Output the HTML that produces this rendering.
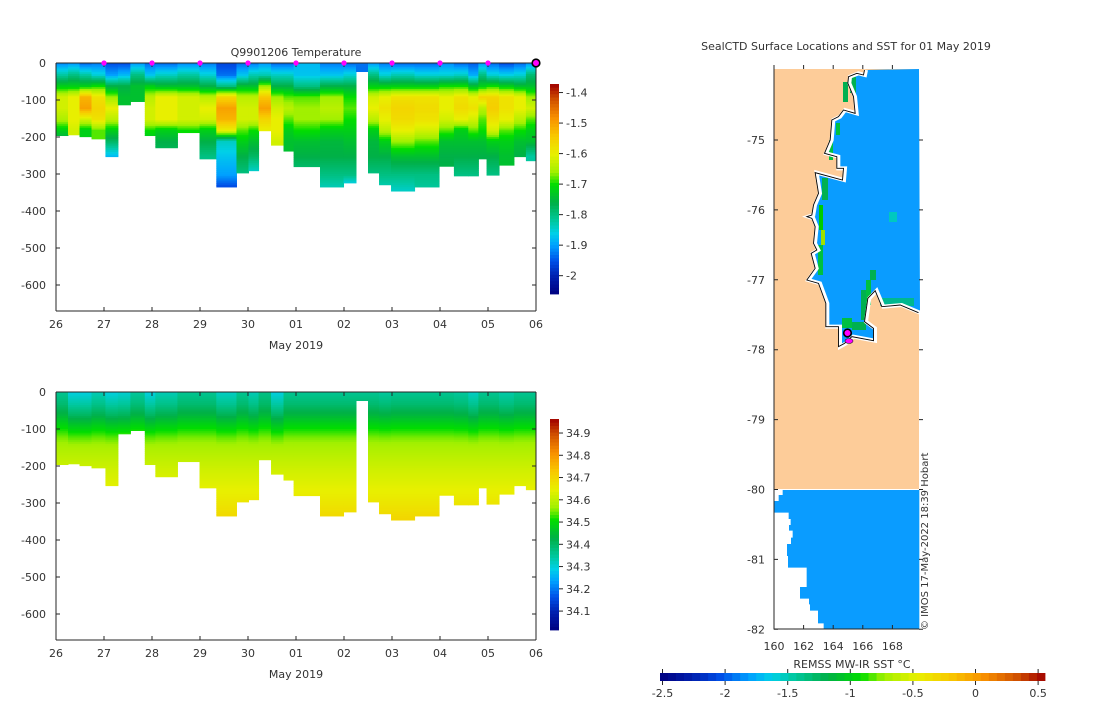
<!DOCTYPE html>
<html><head><meta charset="utf-8"><style>
body{margin:0;background:#fff;}
svg text{font-family:"DejaVu Sans","Liberation Sans",sans-serif;fill:#333;}
</style></head><body>
<svg id="fig" width="1100" height="700" viewBox="0 0 1100 700" xmlns="http://www.w3.org/2000/svg">
<g id="top"></g>
<g id="bot"></g>
<g id="map"></g>
</svg>
<script>
// ---------- data ----------
const colStart = [0,0.25,0.49,0.74,1.03,1.29,1.55,1.85,2.07,2.53,2.99,3.34,3.76,4.01,4.22,4.48,4.74,4.95,5.50,5.99,6.25,6.50,6.73,6.98,7.47,7.98,8.29,8.59,8.80,8.97,9.23,9.54,9.79];
const colEnd   = [0.25,0.49,0.74,1.03,1.29,1.55,1.85,2.07,2.53,2.99,3.34,3.76,4.01,4.22,4.48,4.74,4.95,5.50,5.99,6.25,6.50,6.73,6.98,7.47,7.98,8.29,8.59,8.80,8.97,9.23,9.54,9.79,10.0];
const maxDepth = [196,194,199,205,253,113,104,196,229,188,259,335,297,291,183,222,238,280,335,324,23,297,329,346,335,279,305,305,259,303,276,253,264];
const levels = [0,30,60,90,120,150,180,210,250,300,340];
const tempProfiles = [
[-1.91,-1.82,-1.72,-1.62,-1.62,-1.65,-1.72,-1.78],
[-1.9,-1.8,-1.72,-1.6,-1.6,-1.6,-1.62],
[-1.93,-1.82,-1.72,-1.52,-1.5,-1.62,-1.72],
[-1.92,-1.85,-1.7,-1.58,-1.56,-1.58,-1.68],
[-1.95,-1.9,-1.76,-1.66,-1.6,-1.64,-1.72,-1.78,-1.88],
[-1.95,-1.88,-1.76,-1.74,-1.74],
[-1.9,-1.8,-1.74,-1.74,-1.74],
[-1.93,-1.87,-1.72,-1.64,-1.62,-1.62,-1.7,-1.74],
[-1.93,-1.84,-1.74,-1.6,-1.6,-1.6,-1.72,-1.76,-1.78],
[-1.91,-1.82,-1.74,-1.62,-1.62,-1.62,-1.7],
[-1.92,-1.85,-1.76,-1.64,-1.6,-1.62,-1.72,-1.76,-1.8,-1.82],
[-1.96,-1.93,-1.8,-1.56,-1.5,-1.52,-1.6,-1.84,-1.87,-1.9,-1.97],
[-1.93,-1.87,-1.74,-1.64,-1.62,-1.62,-1.68,-1.72,-1.76,-1.8],
[-1.92,-1.83,-1.74,-1.64,-1.62,-1.62,-1.7,-1.74,-1.78,-1.86],
[-1.9,-1.83,-1.66,-1.54,-1.5,-1.56,-1.6],
[-1.93,-1.84,-1.76,-1.66,-1.62,-1.6,-1.6,-1.62],
[-1.93,-1.84,-1.76,-1.68,-1.64,-1.68,-1.72,-1.74,-1.74],
[-1.88,-1.87,-1.8,-1.68,-1.66,-1.66,-1.7,-1.74,-1.76,-1.8],
[-1.92,-1.87,-1.76,-1.66,-1.64,-1.66,-1.72,-1.75,-1.76,-1.8,-1.84],
[-1.93,-1.85,-1.76,-1.7,-1.68,-1.7,-1.72,-1.74,-1.76,-1.8,-1.9],
[-1.93,-1.93],
[-1.9,-1.8,-1.72,-1.62,-1.6,-1.64,-1.72,-1.75,-1.76,-1.8],
[-1.92,-1.85,-1.72,-1.6,-1.58,-1.6,-1.64,-1.72,-1.76,-1.8,-1.84],
[-1.93,-1.83,-1.72,-1.58,-1.56,-1.57,-1.6,-1.66,-1.74,-1.8,-1.84],
[-1.93,-1.85,-1.72,-1.58,-1.57,-1.58,-1.62,-1.68,-1.74,-1.8,-1.82],
[-1.91,-1.85,-1.7,-1.6,-1.6,-1.62,-1.68,-1.74,-1.76],
[-1.93,-1.84,-1.7,-1.58,-1.57,-1.6,-1.72,-1.74,-1.76,-1.8],
[-1.94,-1.89,-1.74,-1.6,-1.58,-1.62,-1.68,-1.74,-1.76,-1.8],
[-1.9,-1.8,-1.72,-1.56,-1.64,-1.68,-1.7,-1.74,-1.76],
[-1.93,-1.85,-1.7,-1.56,-1.55,-1.58,-1.62,-1.72,-1.76,-1.8],
[-1.95,-1.86,-1.72,-1.58,-1.58,-1.6,-1.68,-1.72,-1.74],
[-1.93,-1.85,-1.74,-1.6,-1.6,-1.64,-1.7,-1.74,-1.76],
[-1.9,-1.79,-1.74,-1.66,-1.62,-1.68,-1.72,-1.74,-1.82]
];
const salProfile = [34.36,34.39,34.44,34.5,34.55,34.58,34.6,34.62,34.64,34.67,34.7];
const salOffset = [0,-0.06,-0.06,-0.03,-0.06,-0.05,-0.01,-0.06,-0.03,0,0,-0.04,0,-0.03,0.01,-0.06,0,0,0,0,0,0,-0.01,0,0,0,-0.01,-0.04,0,0,-0.02,0,0];
const dayLabels = ["26","27","28","29","30","01","02","03","04","05","06"];
const depthTicks = [0,-100,-200,-300,-400,-500,-600];
const tempTicks = [-1.4,-1.5,-1.6,-1.7,-1.8,-1.9,-2];
const salTicks = [34.9,34.8,34.7,34.6,34.5,34.4,34.3,34.2,34.1];
const markerDays = [1,2,3,4,5,6,7,8,9];
const sstTicks = [-2.5,-2,-1.5,-1,-0.5,0,0.5];
const lonTicks = [160,162,164,166,168];
const latTicks = [-75,-76,-77,-78,-79,-80,-81,-82];

// ---------- helpers ----------
const NS="http://www.w3.org/2000/svg";
function el(tag,attrs,parent){const e=document.createElementNS(NS,tag);for(const k in attrs)e.setAttribute(k,attrs[k]);parent.appendChild(e);return e;}
const stops=[[0,[0,0,128]],[0.087,[0,32,176]],[0.159,[0,80,232]],[0.232,[0,160,255]],[0.29,[0,208,232]],[0.348,[0,200,160]],[0.435,[0,176,72]],[0.522,[0,221,0]],[0.58,[160,240,0]],[0.667,[232,240,0]],[0.754,[248,200,0]],[0.841,[248,144,0]],[0.928,[208,80,0]],[1,[160,0,0]]];
function cmap(t){t=Math.max(0,Math.min(1,t));for(let i=1;i<stops.length;i++){if(t<=stops[i][0]){const a=stops[i-1],b=stops[i];const f=(t-a[0])/(b[0]-a[0]);const c=a[1].map((v,j)=>Math.round(v+(b[1][j]-v)*f));return `rgb(${c[0]},${c[1]},${c[2]})`;}}return 'rgb(160,0,0)';}
function interp(prof,d){for(let i=1;i<prof.length;i++){if(d<=levels[i]){const f=(d-levels[i-1])/(levels[i]-levels[i-1]);return prof[i-1]+(prof[i]-prof[i-1])*f;}}return prof[prof.length-1];}

function panel(g,y0,title,valueFn,vmin,vmax,cbTop,cbBot,ticks,isTemp){
  const x0=56,x1=536,yBot=y0+248;
  const xs=d=>x0+d*48, ys=m=>y0+m*0.37;
  for(let c=0;c<colStart.length;c++){
    const md=maxDepth[c];
    for(let d=0;d<md;d+=5){
      const v=valueFn(c,d);
      const r=el('rect',{x:xs(colStart[c]),y:ys(d),width:xs(colEnd[c])-xs(colStart[c])+0.5,height:Math.min(5,md-d)*0.37+0.5,fill:cmap((v-vmin)/(vmax-vmin))},g);
      
      
    }
  }
  const ax=el('path',{d:`M${x0},${y0}H${x1}M${x0},${y0}V${yBot}M${x1},${y0}V${yBot}M${x0},${yBot}H${x1}`,stroke:'#262626','stroke-width':1,fill:'none'},g);
  
  dayLabels.forEach((l,i)=>{
    el('path',{d:`M${xs(i)},${yBot}v-4M${xs(i)},${y0}v4`,stroke:'#262626'},g);
    const t=el('text',{x:xs(i),y:yBot+17,'font-size':11,'text-anchor':'middle'},g);t.textContent=l;
    
  });
  depthTicks.forEach(v=>{
    el('path',{d:`M${x0},${ys(-v)}h4M${x1},${ys(-v)}h-4`,stroke:'#262626'},g);
    const t=el('text',{x:x0-10,y:ys(-v)+4,'font-size':11,'text-anchor':'end'},g);t.textContent=v;
    
  });
  const xl=el('text',{x:296,y:yBot+38,'font-size':11,'text-anchor':'middle'},g);xl.textContent='May 2019';
  
  if(title){const tt=el('text',{x:296,y:y0-7,'font-size':11,'text-anchor':'middle',fill:'#111'},g);tt.textContent=title;
    }
  const n=64;const h=(cbBot-cbTop)/n;
  for(let i=0;i<n;i++){const r=el('rect',{x:550,y:cbBot-(i+1)*h,width:9,height:h+0.4,fill:cmap((i+0.5)/n)},g);
    }
  const cy=v=>cbBot-(v-vmin)/(vmax-vmin)*(cbBot-cbTop);
  ticks.forEach(v=>{el('path',{d:`M559,${cy(v)}h4`,stroke:'#262626'},g);
    const t=el('text',{x:566,y:cy(v)+4,'font-size':11},g);t.textContent=v;
    });
  if(isTemp){
    markerDays.forEach(d=>{const m=el('circle',{cx:xs(d),cy:y0,r:2.6,fill:'#ff00ff'},g);
      });
    const m=el('circle',{cx:xs(10),cy:y0,r:3.8,fill:'#ff00ff',stroke:'#000','stroke-width':1.6},g);
    
  }
}
panel(document.getElementById('top'),63,'Q9901206  Temperature',(c,d)=>interp(tempProfiles[c],d),-2.06,-1.372,84,294,tempTicks,true);
panel(document.getElementById('bot'),392,'',(c,d)=>interp(salProfile,d)+salOffset[c]*(1-Math.min(1,d/150)),34.015,34.963,419,630,salTicks,false);

// ---------- map ----------
const mg=document.getElementById('map');
const mt=el('text',{x:846,y:50,'font-size':11,'text-anchor':'middle',fill:'#111'},mg);mt.textContent='SealCTD Surface Locations and SST for 01 May 2019';

const lonX=l=>774+(l-160)*14.8, latY=l=>140+(-75-l)*69.9;
const land=el('rect',{x:774,y:69,width:145,height:420,fill:'#fdcc99'},mg);

const coastZ=[[378,60],[375,75],[355,70],[330,80],[328,100],[345,140],[350,190],[315,180],[300,200],[280,210],[275,270],[258,310],[295,320],[295,355],[315,355],[312,390],[230,368],[240,430],[225,465],[220,495],[205,500],[220,505],[230,530],[225,580],[235,600],[218,610],[230,655],[205,690],[240,700],[262,760],[262,830],[300,830],[300,890],[318,880],[340,860],[405,872],[405,835],[378,815],[388,745],[410,722],[430,770],[485,765],[540,788]];
const coast=coastZ.map(p=>[740+p[0]/3,50+p[1]/3]);
const seaPts=coast.concat([[919,69]]).map(p=>p.join(',')).join(' ');
const sea=el('polygon',{points:seaPts,fill:'#0a9cff'},mg);

const greens=[[850,77,6,16,'#00b050'],[843,82,5,20,'#00b050'],[836,123,4,12,'#00c040'],[829,140,4,20,'#00c040'],[822,178,6,22,'#00b050'],[819,205,4,25,'#00cc00'],[821,230,4,15,'#a0e000'],[818,245,5,30,'#00c040'],[870,270,6,10,'#00b050'],[866,280,5,25,'#00c040'],[861,290,5,30,'#00b050'],[880,298,34,8,'#00b890'],[842,318,10,10,'#00c040'],[852,322,14,8,'#00b050'],[889,212,8,10,'#00c8c0']];
greens.forEach(g=>{const r=el('rect',{x:g[0],y:g[1],width:g[2],height:g[3],fill:g[4]},mg);});
const cw=el('polyline',{points:coast.map(p=>p.join(',')).join(' '),fill:'none',stroke:'#fff','stroke-width':4},mg);

const cl=el('polyline',{points:coast.map(p=>(p[0]-1.5)+','+p[1]).join(' '),fill:'none',stroke:'#000','stroke-width':0.9},mg);

const lowZ=[[428,90],[428,105],[416,105],[416,123],[402,123],[402,158],[446,158],[446,177],[452,177],[452,195],[447,195],[447,212],[458,212],[458,233],[453,233],[453,252],[441,252],[441,288],[444,288],[444,323],[500,323],[500,381],[480,381],[480,416],[507,416],[507,433],[510,433],[510,452],[534,452],[534,490],[551,490],[551,508],[838,508],[838,90]];
const low=el('polygon',{points:lowZ.map(p=>(640+p[0]/3)+','+(460+p[1]/3)).join(' '),fill:'#0a9cff'},mg);

const m1=el('circle',{cx:847.5,cy:333,r:3.8,fill:'#ff00ff',stroke:'#000','stroke-width':1.6},mg);

const m2=el('ellipse',{cx:849,cy:341,rx:4,ry:2.5,fill:'#ff00ff',stroke:'#222','stroke-width':0.6},mg);

el('path',{d:'M774,69V629H919',stroke:'#262626',fill:'none'},mg);
lonTicks.forEach(l=>{el('path',{d:`M${lonX(l)},629v-4M${lonX(l)},69v-4`,stroke:'#262626'},mg);
  const t=el('text',{x:lonX(l),y:650,'font-size':11,'text-anchor':'middle'},mg);t.textContent=l;
  });
latTicks.forEach(l=>{el('path',{d:`M774,${latY(l)}h4M919,${latY(l)}h4`,stroke:'#262626'},mg);
  const t=el('text',{x:765,y:latY(l)+4,'font-size':11,'text-anchor':'end'},mg);t.textContent=l;
  });
const st=el('text',{x:0,y:0,'font-size':10,transform:'translate(928,630) rotate(-90)',fill:'#111'},mg);st.textContent='© IMOS 17-May-2022 18:39 Hobart';

const sMin=-2.52,sMax=0.555,nb=48,bx0=660,bx1=1045;
for(let i=0;i<nb;i++){const w=(bx1-bx0)/nb;const r=el('rect',{x:bx0+i*w,y:673,width:w+0.4,height:8,fill:cmap((i+0.5)/nb)},mg);
  }
const sx=v=>bx0+(v-sMin)/(sMax-sMin)*(bx1-bx0);
sstTicks.forEach(v=>{el('path',{d:`M${sx(v)},681v4M${sx(v)},673v-4`,stroke:'#262626'},mg);
  const t=el('text',{x:sx(v),y:697,'font-size':11,'text-anchor':'middle'},mg);t.textContent=v;
  });
const ct=el('text',{x:852,y:668,'font-size':11,'text-anchor':'middle',fill:'#111'},mg);ct.textContent='REMSS MW-IR SST °C';

</script>
</body></html>
